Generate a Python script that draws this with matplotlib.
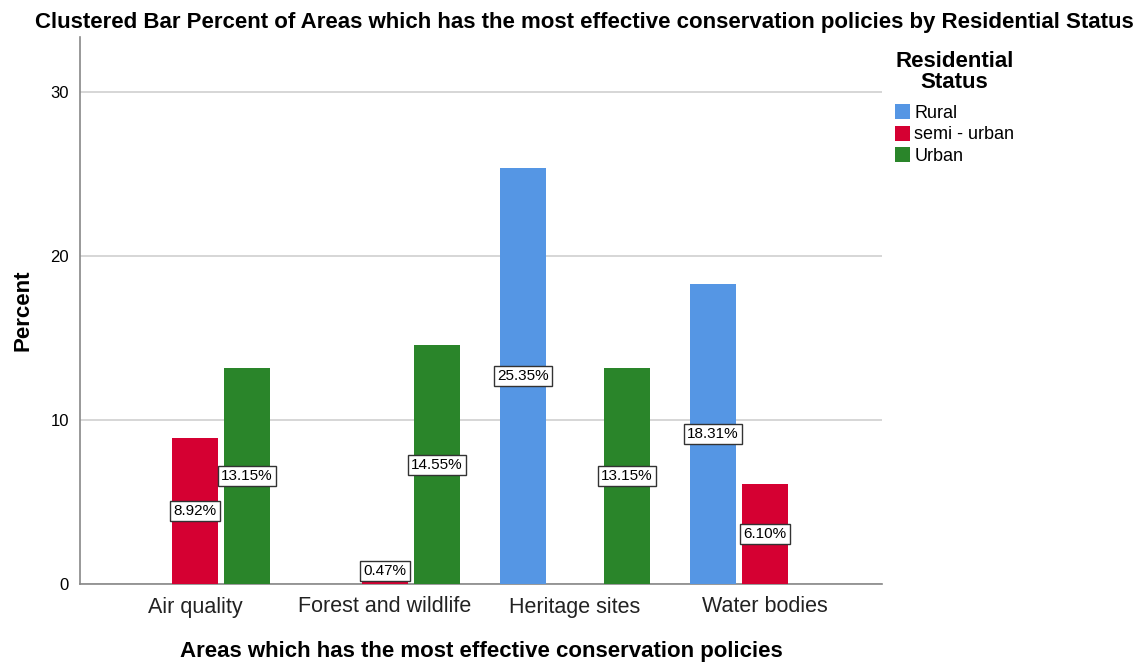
import numpy as np
import matplotlib
matplotlib.use("Agg")
import matplotlib.pyplot as plt
from matplotlib.patches import Patch

plt.rcParams["font.family"] = ["Liberation Sans", "DejaVu Sans"]

# 数据
areas = ["Air quality", "Forest and wildlife", "Heritage sites", "Water bodies"]
groups = ["Rural", "semi - urban", "Urban"]
rural = [None, None, 25.35, 18.31]
semi_urban = [8.92, 0.47, None, 6.10]
urban = [13.15, 14.55, 13.15, None]
colors = ["#5596E4", "#D50032", "#2A852A"]

series = [rural, semi_urban, urban]

fig = plt.figure(figsize=(11.45, 6.64), dpi=100)
ax = fig.add_axes([80 / 1145, 1 - 584 / 664, 802 / 1145, 547 / 664])

x = np.arange(len(areas))
slot = 52 / 190
width = 46 / 190

for k, (vals, col) in enumerate(zip(series, colors)):
    for i, v in enumerate(vals):
        if v is None:
            continue
        xi = x[i] + (k - 1) * slot
        ax.bar(xi, v, width=width, color=col, zorder=3)
        # 标签放在柱子中部，太矮的柱子抬高一点
        ax.text(xi, max(v / 2, 0.8), f"{v:.2f}%", ha="center", va="center",
                fontsize=11, zorder=4,
                bbox=dict(boxstyle="square,pad=0.2", fc="white", ec="#333333", lw=1))

ax.set_xlim(-0.605, 3.616)
ax.set_ylim(0, 33.35)
ax.set_yticks([0, 10, 20, 30])
ax.set_xticks(x)
ax.set_xticklabels(areas, fontsize=15.5, color="#222222")
ax.tick_params(axis="y", labelsize=12, length=0, pad=8)
ax.tick_params(axis="x", length=0, pad=9)
ax.grid(axis="y", color="#CFCFCF", lw=1.2, zorder=0)

for s in ["top", "right"]:
    ax.spines[s].set_visible(False)
for s in ["left", "bottom"]:
    ax.spines[s].set_color("#888888")
    ax.spines[s].set_linewidth(1.2)

ax.set_ylabel("Percent", fontsize=16, fontweight="bold", labelpad=12)
ax.set_xlabel("Areas which has the most effective conservation policies",
              fontsize=16, fontweight="bold", labelpad=17)

fig.suptitle("Clustered Bar Percent of Areas which has the most effective conservation policies by Residential Status",
             x=584 / 1145, y=0.982, fontsize=16, fontweight="bold")

handles = [Patch(facecolor=c, label=g) for g, c in zip(groups, colors)]
leg = fig.legend(handles=handles, title="Residential\nStatus", loc="upper left",
                 bbox_to_anchor=(888 / 1145, 1 - 44 / 664), frameon=False,
                 fontsize=13, title_fontproperties={"weight": "bold", "size": 16},
                 handlelength=0.8, handleheight=0.9, handletextpad=0.25,
                 labelspacing=0.2, borderaxespad=0)
leg._legend_box.align = "left"
leg._legend_box.sep = 8
leg.get_title().set_multialignment("center")
leg.get_title().set_linespacing(1.0)

fig.savefig("out.png", dpi=100)
